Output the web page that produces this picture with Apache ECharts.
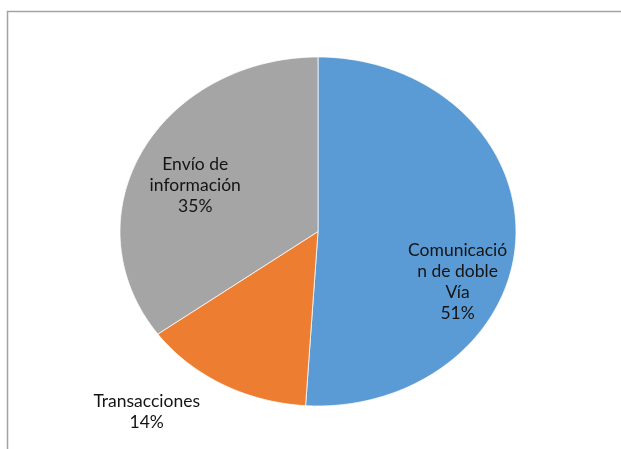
<!DOCTYPE html>
<html>
<head>
<meta charset="utf-8">
<script src="https://cdn.jsdelivr.net/npm/echarts@6/dist/echarts.min.js"></script>
<style>
  html, body { margin: 0; padding: 0; background: #fff; }
  #chart { width: 621px; height: 449px; }
</style>
</head>
<body>
<div id="chart"></div>
<script>
// Slice data (percent of total)
const categories = ['Comunicació\nn de doble\nVía', 'Transacciones', 'Envío de\ninformación'];
const shares = [51, 14, 35];
const colors = ['#5B9BD5', '#ED7D31', '#A5A5A5'];

// Label anchors in unit-ellipse coordinates (x right, y up)
const labelAnchors = [[0.705, -0.29], [-0.865, -1.035], [-0.62, 0.265]];

const total = shares.reduce((a, b) => a + b, 0);
let acc = 0;
const sliceData = shares.map((v, i) => {
  const start = acc / total;
  acc += v;
  return [start, acc / total, i];
});

const chart = echarts.init(document.getElementById('chart'), null, { renderer: 'canvas' });

function renderSlice(params, api) {
  const start = api.value(0), end = api.value(1), idx = api.value(2);
  const pts = [api.coord([0, 0])];
  const steps = Math.max(8, Math.ceil((end - start) * 360));
  for (let k = 0; k <= steps; k++) {
    const a = 2 * Math.PI * (start + (end - start) * k / steps);
    pts.push(api.coord([Math.sin(a), Math.cos(a)]));
  }
  const pct = Math.round(shares[idx] / total * 100) + '%';
  const lp = api.coord(labelAnchors[idx]);
  return {
    type: 'group',
    children: [
      {
        type: 'polygon',
        shape: { points: pts },
        style: { fill: colors[idx], stroke: '#ffffff', lineWidth: 0.75 },
        z2: 1
      },
      {
        type: 'text',
        x: lp[0], y: lp[1],
        style: {
          text: categories[idx] + '\n' + pct,
          fill: '#141414',
          font: '17.5px Lato',
          lineHeight: 21,
          align: 'center',
          verticalAlign: 'middle'
        },
        z2: 10
      }
    ]
  };
}

chart.setOption({
  animation: false,
  backgroundColor: '#ffffff',
  graphic: [{
    type: 'rect',
    shape: { x: 7.5, y: 11.5, width: 800, height: 600 },
    style: { fill: 'none', stroke: '#a3a3a3', lineWidth: 1.5 },
    silent: true
  }],
  grid: { left: 120, right: 105, top: 57, bottom: 43 },
  xAxis: { type: 'value', min: -1, max: 1, show: false },
  yAxis: { type: 'value', min: -1, max: 1, show: false },
  series: [{
    type: 'custom',
    renderItem: renderSlice,
    data: sliceData,
    clip: false
  }]
});
</script>
</body>
</html>
